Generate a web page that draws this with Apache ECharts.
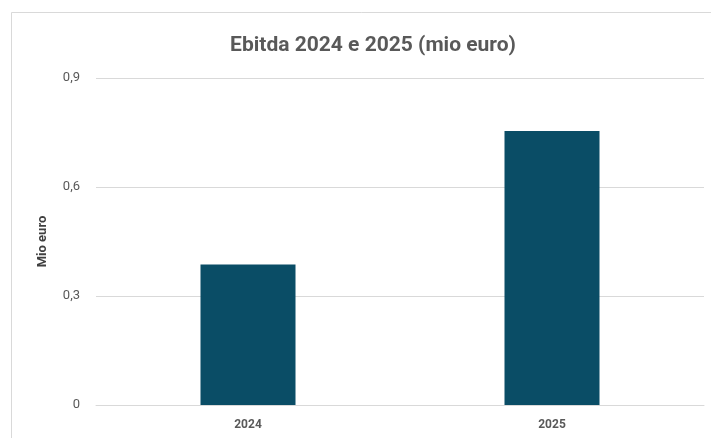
<!DOCTYPE html>
<html><head><meta charset="utf-8">
<script src="https://cdn.jsdelivr.net/npm/echarts@6/dist/echarts.min.js"></script>
<style>html,body{margin:0;padding:0;background:#fff}#c{width:711px;height:438px}</style>
</head><body><div id="c"></div>
<script>
const categories = ['2024', '2025'];
const ebitda = [0.387, 0.754];
const yTicks = [0, 0.3, 0.6, 0.9];

const chart = echarts.init(document.getElementById('c'), null, {renderer: 'canvas'});
chart.setOption({
  animation: false,
  backgroundColor: '#ffffff',
  graphic: [{
    type: 'rect', left: 11, top: 12, z: -10,
    shape: {x: 0, y: 0, width: 720, height: 440},
    style: {fill: '#ffffff', stroke: '#d9d9d9', lineWidth: 1}
  }],
  title: {
    text: 'Ebitda 2024 e 2025 (mio euro)',
    left: 368, top: 30, textAlign: 'center',
    textStyle: {fontFamily: 'Roboto', fontWeight: 'bold', fontSize: 21, color: '#595959'}
  },
  grid: {left: 96, right: 7, top: 78, bottom: 33},
  xAxis: {
    type: 'category', data: categories,
    axisLine: {show: true, lineStyle: {color: '#d9d9d9'}},
    axisTick: {show: false},
    axisLabel: {color: '#595959', fontWeight: 'bold', fontSize: 12, fontFamily: 'Roboto', margin: 14}
  },
  yAxis: {
    type: 'value', min: 0, max: 0.9, interval: 0.3,
    name: 'Mio euro', nameLocation: 'middle', nameGap: 47,
    nameTextStyle: {color: '#404040', fontWeight: 'bold', fontSize: 13, fontFamily: 'Roboto'},
    axisLine: {show: false}, axisTick: {show: false},
    splitLine: {lineStyle: {color: '#d9d9d9'}},
    axisLabel: {
      color: '#595959', fontSize: 13, fontFamily: 'Roboto', margin: 16,
      formatter: v => {
        const t = yTicks.find(x => Math.abs(x - v) < 1e-9);
        return t === 0 ? '0' : String(t).replace('.', ',');
      }
    }
  },
  series: [{
    type: 'bar', data: ebitda, barWidth: 95,
    itemStyle: {color: '#0a4d66'}
  }]
});
</script></body></html>
